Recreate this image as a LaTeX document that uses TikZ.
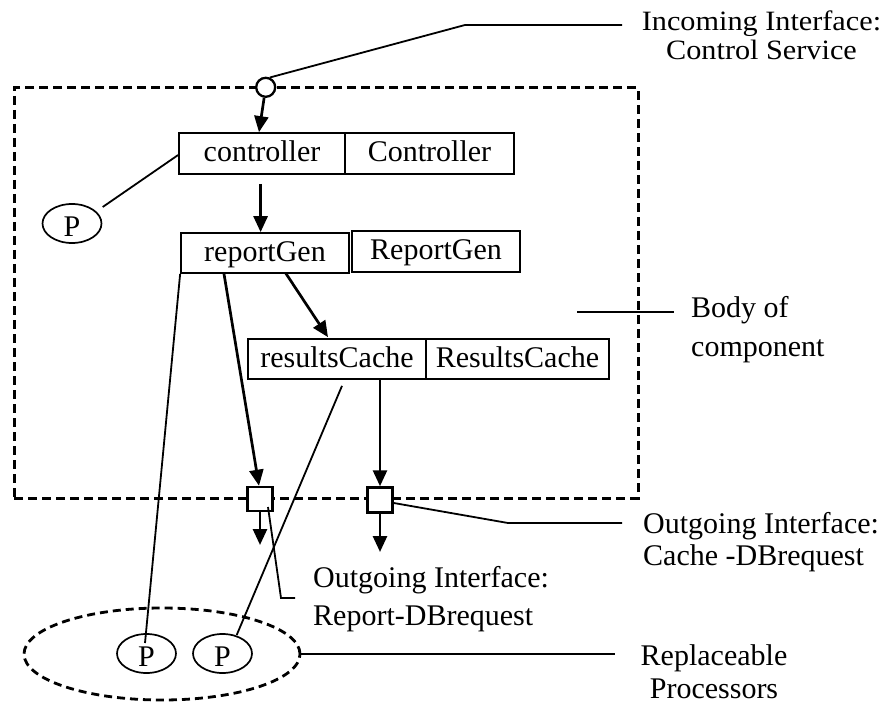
\documentclass[tikz,border=0pt]{standalone}
\usepackage{fontspec}
\setmainfont{Liberation Serif}
\newfontfamily\stretchedserif[FakeStretch=1.08]{Liberation Serif}
\usetikzlibrary{arrows.meta,calc,shapes.geometric}
\begin{document}
\begin{tikzpicture}[x=1pt,y=-1pt,
  txt/.style={font=\fontsize{30}{33}\selectfont},
  box/.style={draw,line width=1.7pt,minimum height=40pt,inner sep=0pt,
    text height=21pt,text depth=5pt},
  proc/.style={draw,ellipse,line width=1.7pt,minimum width=59pt,minimum height=39pt,
    inner sep=0pt,text height=26pt,text depth=0pt},
  port/.style={draw,fill=white,line width=2.5pt,minimum width=25pt,minimum height=24pt,inner sep=0pt},
  arr/.style={line width=2.7pt,-{Triangle[length=16pt,width=14pt]}},
  link/.style={line width=1.8pt},
  bound/.style={draw,line width=3pt,dash pattern=on 9pt off 5pt},
  lbl/.style={inner sep=0pt},
]
\useasboundingbox (0,0) rectangle (885,703);

% body of the component
\node[bound,minimum width=624pt,minimum height=410pt,inner sep=0pt] (body) at (326,293) {};

% parts: instance name | type
\node[box,txt,minimum width=166pt,minimum height=41pt] (ctl)  at (262,153.5) {controller};
\node[box,txt,minimum width=169pt,minimum height=41pt] (ctlT) at (429.5,153.5) {Controller};
\node[box,txt,minimum width=168pt] (rg)  at (265,253) {reportGen};
\node[box,txt,minimum width=168pt,minimum height=41pt] (rgT) at (436,251.5) {ReportGen};
\node[box,txt,minimum width=178pt] (rc)  at (337,359) {resultsCache};
\node[box,txt,minimum width=183pt] (rcT) at (517.5,359) {ResultsCache};

% processors
\node[proc,txt] (p0) at (72,223.5) {P};
\node[draw,ellipse,line width=2.8pt,dash pattern=on 8pt off 5pt,
      minimum width=276pt,minimum height=92pt,inner sep=0pt] (rp) at (162,654) {};
\node[proc,txt] (p1) at (146.5,653.5) {P};
\node[proc,txt] (p2) at (222.5,653.5) {P};

% interfaces
\node[draw,circle,fill=white,line width=2.3pt,minimum size=19pt,inner sep=0pt] (ifc) at (265.7,87.3) {};
\node[port] (sqL) at (260,499) {};
\node[port,minimum height=25pt] (sqR) at (380,500) {};

% flow arrows
\coordinate (outL) at (260,545);
\coordinate (outR) at (380,552);
\draw[arr] (ifc) -- ($(ctl.north)+(-3,0)$);
\draw[arr] ($(ctl.south)+(-1.4,9)$) -- ($(rg.north)+(-4.4,0)$);
\draw[arr] ($(rg.south)+(20.5,-1)$) -- ($(rc.north)+(-9,-1)$);
\draw[arr] ($(rg.south)+(-41,0)$) -- ($(sqL.north)+(-1,0)$);
\draw[arr] ($(rc.south)+(43,0)$) -- (sqR.north);
\draw[arr] (sqL.south) -- (outL);
\draw[arr] (sqR.south) -- (outR);

% processor bindings
\draw[link] ($(p0)+(30.7,-16.5)$) -- ($(ctl.west)+(0,1.5)$);
\draw[link] (rg.south west) -- ($(p1)+(-1.5,-10.5)$);
\draw[link] ($(rc.south)+(5,6)$) -- ($(p2)+(14.2,-18.5)$);

% callouts
\coordinate (inK) at (465,25);   \coordinate (inE) at (622,25);
\coordinate (bodyA) at (577,312); \coordinate (bodyB) at (674,312);
\coordinate (cK) at (508,523);   \coordinate (cE) at (622,523);
\coordinate (rK) at (281,598);   \coordinate (rE) at (295,598);
\coordinate (rpE) at (615,654);
\draw[link] (ifc.67) -- (inK) -- (inE);
\draw[link] (bodyA) -- (bodyB);
\draw[link] ($(sqR.east)+(0,3)$) -- (cK) -- (cE);
\draw[link] ($(sqL)+(8,8)$) -- (rK) -- (rE);
\draw[link] (rp.east) -- (rpE);

% callout texts (base anchor sits on the last line)
\node[lbl,anchor=base,align=center,font=\stretchedserif\fontsize{28}{29}\selectfont] (inL) at (761.5,60)
  {Incoming Interface:\\Control Service};
\node[lbl,anchor=base west,align=left,font=\fontsize{30}{39}\selectfont] (bodyL) at (691,356)
  {Body of\\component};
\node[lbl,anchor=base west,align=left,font=\fontsize{30}{32}\selectfont] (cacheL) at (643,565)
  {Outgoing Interface:\\Cache -DBrequest};
\node[lbl,anchor=base west,align=left,font=\fontsize{30}{38}\selectfont] (repL) at (313,625)
  {Outgoing Interface:\\Report-DBrequest};
\node[lbl,anchor=base,align=center,font=\fontsize{30}{33}\selectfont] (rpL) at (714,698)
  {Replaceable\\Processors};
\end{tikzpicture}
\end{document}
